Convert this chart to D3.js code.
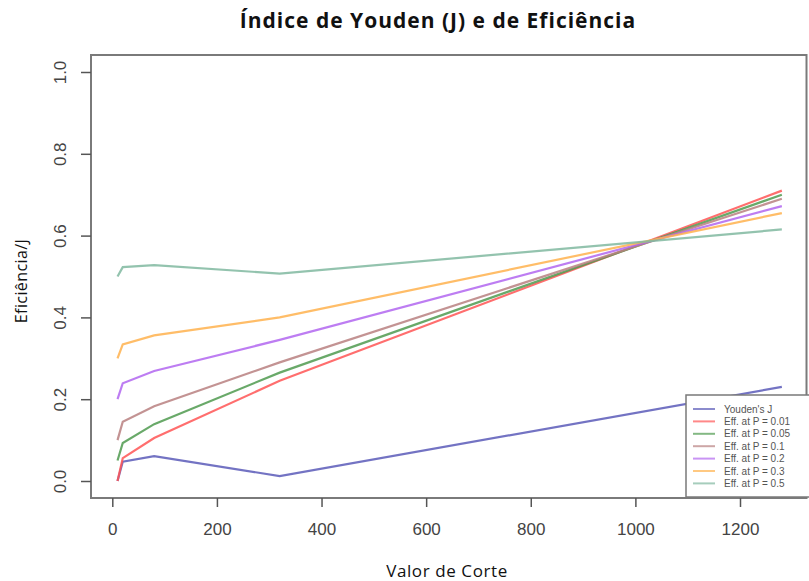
<!DOCTYPE html>
<html>
<head>
<meta charset="utf-8">
<script src="https://cdn.jsdelivr.net/npm/d3@7"></script>
<style>
  body { margin: 0; background: #fff; }
  svg { display: block; }
</style>
</head>
<body>
<svg id="chart" width="809" height="581"></svg>
<script>
// cut-off values on the x axis
const cutoffs = [10, 20, 80, 320, 1280];

// one array per curve
const youdenJ = [0.0, 0.047, 0.061, 0.012, 0.23];
const effP001 = [0.0, 0.056, 0.105, 0.245, 0.71];
const effP005 = [0.05, 0.093, 0.139, 0.265, 0.70];
const effP01  = [0.10, 0.145, 0.183, 0.29, 0.69];
const effP02  = [0.20, 0.239, 0.269, 0.345, 0.672];
const effP03  = [0.30, 0.334, 0.356, 0.40, 0.655];
const effP05  = [0.50, 0.523, 0.528, 0.507, 0.615];

const seriesNames = ["Youden's J", "Eff. at P = 0.01", "Eff. at P = 0.05", "Eff. at P = 0.1",
                     "Eff. at P = 0.2", "Eff. at P = 0.3", "Eff. at P = 0.5"];
const seriesValues = [youdenJ, effP001, effP005, effP01, effP02, effP03, effP05];
const seriesColors = ["#5a5ab8", "#ff5555", "#4f9a4f", "#b88080", "#b266f0", "#ffb24d", "#80b8a0"];

const xTicks = [0, 200, 400, 600, 800, 1000, 1200];
const yTicks = [0, 0.2, 0.4, 0.6, 0.8, 1.0];

const svg = d3.select('#chart');

const x = d3.scaleLinear().domain([0, 1200]).range([112.3, 740]);
const y = d3.scaleLinear().domain([0, 1]).range([481, 72]);

// plot frame
const frame = { left: 91, top: 55, right: 806.5, bottom: 498 };
svg.append('rect')
  .attr('x', frame.left).attr('y', frame.top)
  .attr('width', frame.right - frame.left)
  .attr('height', frame.bottom - frame.top)
  .attr('fill', 'none')
  .attr('stroke', '#7a7a7a')
  .attr('stroke-width', 2);

// x axis (R style: ticks below the frame)
const xAxis = svg.append('g')
  .attr('transform', `translate(0,${frame.bottom})`)
  .call(d3.axisBottom(x).tickValues(xTicks).tickSize(9).tickPadding(16).tickFormat(d3.format('d')));
xAxis.select('.domain').remove();
xAxis.selectAll('line').attr('stroke', '#555').attr('stroke-width', 1.5);
xAxis.selectAll('text')
  .attr('fill', '#444')
  .style('font-family', 'Liberation Sans, Arial, sans-serif')
  .style('font-size', '17px');

// y axis with rotated labels
const yAxis = svg.append('g')
  .attr('transform', `translate(${frame.left},0)`)
  .call(d3.axisLeft(y).tickValues(yTicks).tickSize(10).tickFormat(d3.format('.1f')));
yAxis.select('.domain').remove();
yAxis.selectAll('line').attr('stroke', '#555').attr('stroke-width', 1.5);
yAxis.selectAll('text')
  .attr('x', null).attr('dy', null)
  .attr('text-anchor', 'middle')
  .attr('transform', 'translate(-25,0) rotate(-90)')
  .attr('fill', '#444')
  .style('font-family', 'Liberation Sans, Arial, sans-serif')
  .style('font-size', '17px');

// lines
const line = d3.line()
  .x((d, i) => x(cutoffs[i]))
  .y(d => y(d));

svg.append('g')
  .selectAll('path')
  .data(seriesValues)
  .enter()
  .append('path')
    .attr('d', line)
    .attr('fill', 'none')
    .attr('stroke', (d, i) => seriesColors[i])
    .attr('stroke-width', 2.2)
    .attr('stroke-opacity', 0.85);

// legend
const legend = svg.append('g').attr('transform', 'translate(686,395)');
legend.append('rect')
  .attr('width', 124).attr('height', 102)
  .attr('fill', '#fff')
  .attr('stroke', '#7a7a7a')
  .attr('stroke-width', 1.5);

const item = legend.selectAll('g')
  .data(seriesNames)
  .enter()
  .append('g')
    .attr('transform', (d, i) => `translate(0,${14 + i * 12.4})`);
item.append('line')
  .attr('x1', 7).attr('x2', 29)
  .attr('stroke', (d, i) => seriesColors[i])
  .attr('stroke-width', 2)
  .attr('stroke-opacity', 0.7);
item.append('text')
  .attr('x', 38).attr('dy', '0.35em')
  .attr('fill', '#555')
  .style('font-family', 'Liberation Sans, Arial, sans-serif')
  .style('font-size', '10px')
  .text(d => d);

// titles
svg.append('text')
  .attr('x', 438).attr('y', 28)
  .attr('text-anchor', 'middle')
  .attr('fill', '#111')
  .style('font-family', 'Open Sans, sans-serif')
  .style('font-weight', 'bold')
  .style('font-size', '21px')
  .style('letter-spacing', '1px')
  .text('Índice de Youden (J) e de Eficiência');

svg.append('text')
  .attr('x', 447).attr('y', 577)
  .attr('text-anchor', 'middle')
  .attr('fill', '#111')
  .style('font-family', 'Open Sans, sans-serif')
  .style('font-size', '17px')
  .style('letter-spacing', '0.6px')
  .text('Valor de Corte');

svg.append('text')
  .attr('transform', 'translate(27,281) rotate(-90)')
  .attr('text-anchor', 'middle')
  .attr('fill', '#111')
  .style('font-family', 'Open Sans, sans-serif')
  .style('font-size', '16px')
  .style('letter-spacing', '0.4px')
  .text('Eficiência/J');
</script>
</body>
</html>
